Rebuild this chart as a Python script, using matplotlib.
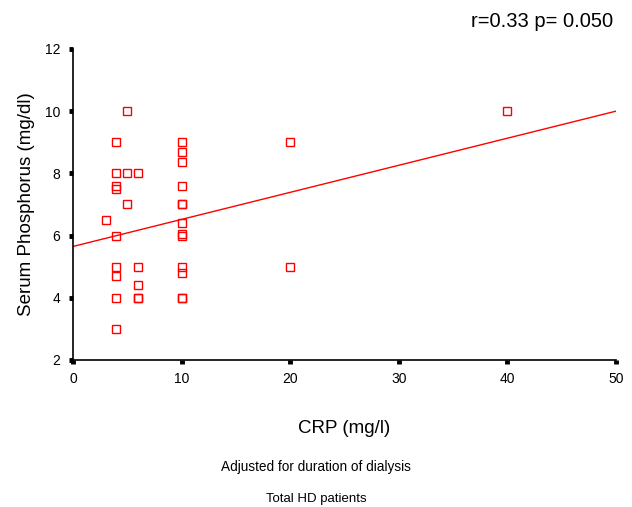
import numpy as np
import matplotlib
matplotlib.use('Agg')
import matplotlib.pyplot as plt

plt.rcParams['font.family'] = ['Liberation Sans', 'DejaVu Sans']

# CRP (mg/l) and serum phosphorus (mg/dl) per patient
crp = [3,
       4, 4, 4, 4, 4, 4, 4, 4, 4,
       5, 5, 5,
       6, 6, 6, 6, 6,
       10, 10, 10, 10, 10, 10, 10, 10, 10, 10, 10, 10, 10,
       20, 20,
       40]
phos = [6.5,
        9.0, 8.0, 7.6, 7.5, 6.0, 5.0, 4.7, 4.0, 3.0,
        10.0, 8.0, 7.0,
        8.0, 5.0, 4.4, 4.0, 4.0,
        9.0, 8.7, 8.35, 7.6, 7.0, 7.0, 6.4, 6.05, 6.0, 5.0, 4.8, 4.0, 4.0,
        9.0, 5.0,
        10.0]

# adjusted regression line
intercept = 5.65
slope = 0.087

fig = plt.figure(figsize=(6.32, 5.07), dpi=100)
ax = fig.add_axes([0.1155, 0.29, 0.859, 0.6134])

ax.plot(crp, phos, 's', mfc='none', mec='red', ms=5.6, mew=1)
xl = np.array([0, 50])
ax.plot(xl, intercept + slope * xl, color='red', lw=1)

ax.set_xlim(0, 50)
ax.set_ylim(2, 12)
ax.set_xticks([0, 10, 20, 30, 40, 50])
ax.set_yticks([2, 4, 6, 8, 10, 12])
for s in ['top', 'right']:
    ax.spines[s].set_visible(False)
ax.spines['left'].set_linewidth(1.2)
ax.spines['bottom'].set_linewidth(1.2)
ax.tick_params(axis='both', direction='out', length=3, width=3.5, labelsize=10, pad=6)

ax.set_ylabel('Serum Phosphorus (mg/dl)', fontsize=13.5, labelpad=7)
ax.set_xlabel('CRP (mg/l)', fontsize=13.5, labelpad=24)

fig.text(0.97, 0.958, 'r=0.33 p= 0.050', ha='right', va='center', fontsize=14.5)
fig.text(0.5, 0.079, 'Adjusted for duration of dialysis', ha='center', va='center', fontsize=9.8)
fig.text(0.5, 0.016, 'Total HD patients', ha='center', va='center', fontsize=9.5)

plt.savefig('out.png', dpi=100)
plt.close()
